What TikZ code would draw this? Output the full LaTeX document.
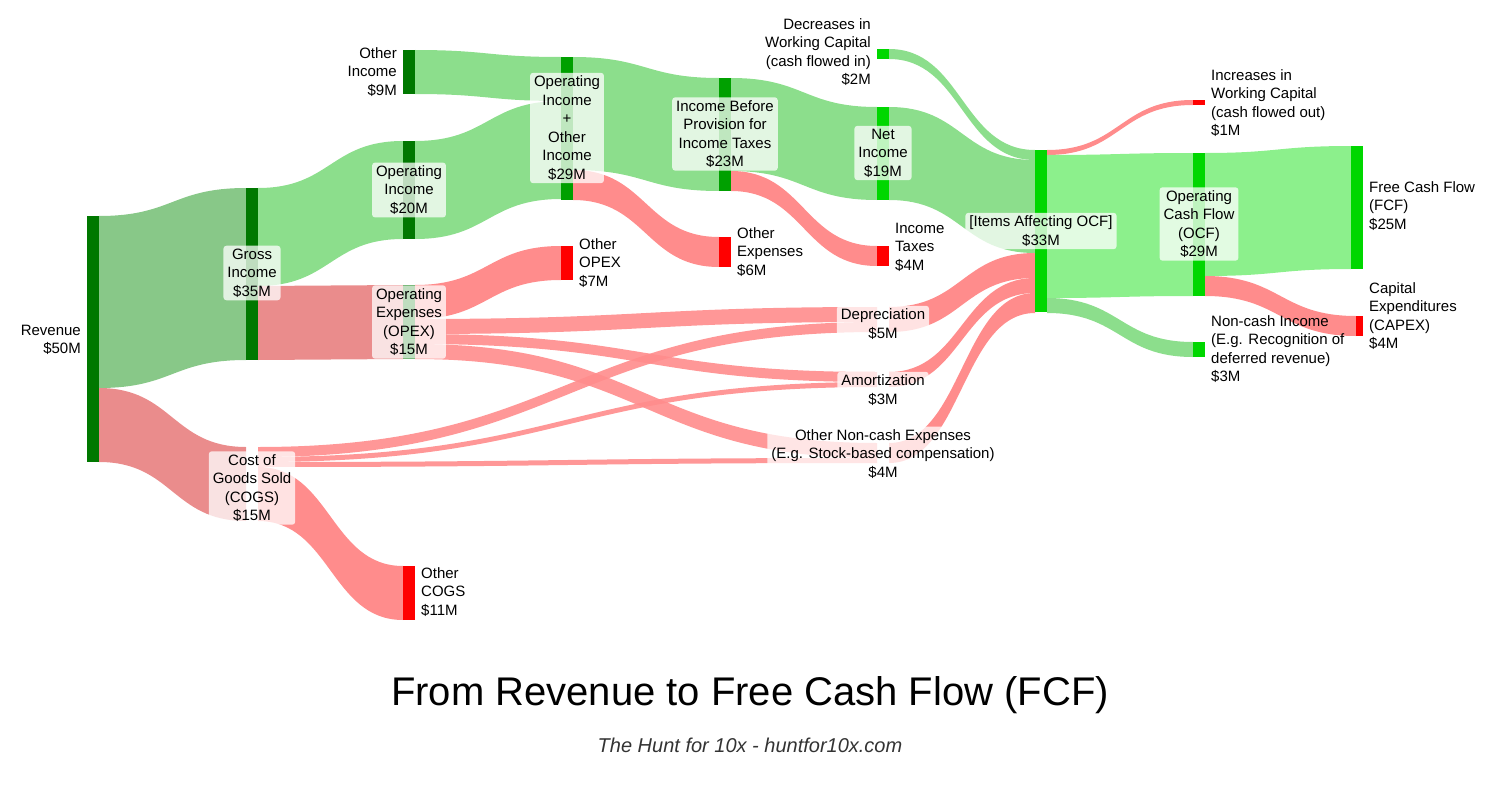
\documentclass[tikz,border=0pt]{standalone}
\usepackage{fontspec}
\setmainfont{Liberation Sans}
\usetikzlibrary{calc}
\definecolor{dkgreen}{RGB}{0,120,0}
\definecolor{mdgreen}{RGB}{0,160,0}
\definecolor{ltgreen}{RGB}{0,215,0}
\definecolor{flowgreen}{RGB}{140,222,140}
\definecolor{flowgreenB}{RGB}{136,200,136}
\definecolor{flowgreenC}{RGB}{140,240,140}
\definecolor{flowred}{RGB}{255,140,140}
\definecolor{flowredB}{RGB}{234,140,140}
\newcommand\flowband[6]{%
  \pgfmathsetmacro\xm{(#1+#3)/2}\pgfmathsetmacro\ya{#2+#5}\pgfmathsetmacro\yb{#4+#5}%
  \fill[#6] (#1,#2) .. controls (\xm,#2) and (\xm,#4) .. (#3,#4) -- (#3,\yb)
    .. controls (\xm,\yb) and (\xm,\ya) .. (#1,\ya) -- cycle;}
\tikzset{
  bar/.style={inner sep=0pt, minimum width=12pt, anchor=north west, draw=none},
  lbl/.style={align=center, fill=white, fill opacity=0.75, text opacity=1,
    rounded corners=3pt, inner xsep=4pt, inner ysep=3pt, font=\fontsize{15}{18.5}\selectfont},
  txt/.style={align=left, inner sep=0pt, font=\fontsize{15}{18.5}\selectfont},
}
\begin{document}
\begin{tikzpicture}[x=1pt,y=-1pt]
\useasboundingbox (0,0) rectangle (1500,800);
% flows
\flowband{99}{216}{246}{188}{172}{flowgreenB}
\flowband{99}{388}{246}{447}{74}{flowredB}
\flowband{258}{188}{403}{141}{98}{flowgreen}
\flowband{258}{286}{403}{285}{74}{flowredB}
\flowband{258}{447}{877}{322}{10}{flowred,opacity=.9}
\flowband{258}{457}{877}{382}{5}{flowred,opacity=.9}
\flowband{258}{462}{877}{458}{5}{flowred,opacity=.9}
\flowband{258}{467}{403}{566}{54}{flowred}
\flowband{415}{50}{561}{57}{44}{flowgreen}
\flowband{415}{141}{561}{101}{98}{flowgreen}
\flowband{415}{285}{561}{246}{34}{flowred}
\flowband{415}{319}{877}{307}{15}{flowred,opacity=.9}
\flowband{415}{334}{877}{372}{10}{flowred,opacity=.9}
\flowband{415}{344}{877}{443}{15}{flowred,opacity=.9}
\flowband{573}{57}{719}{78}{113}{flowgreen}
\flowband{573}{170}{719}{237}{30}{flowred}
\flowband{731}{78}{877}{107}{93}{flowgreen}
\flowband{731}{171}{877}{246}{20}{flowred}
\flowband{889}{49}{1035}{150}{10}{flowgreen}
\flowband{889}{107}{1035}{160}{93}{flowgreen}
\flowband{889}{307}{1035}{253}{25}{flowred}
\flowband{889}{372}{1035}{278}{15}{flowred}
\flowband{889}{443}{1035}{293}{20}{flowred}
\flowband{1047}{150}{1193}{100}{5}{flowred}
\flowband{1047}{155}{1193}{153}{143}{flowgreenC}
\flowband{1047}{298}{1193}{342}{15}{flowgreen}
\flowband{1205}{153}{1351}{146}{123}{flowgreenC}
\flowband{1205}{276}{1356}{316}{20}{flowred}
% bars
\node[bar, fill=dkgreen, minimum height=246pt] (rev) at (87,216) {};
\node[bar, fill=dkgreen, minimum height=172pt] (gross) at (246,188) {};
\node[bar, fill=dkgreen, minimum height=98pt] (opinc) at (403,141) {};
\node[bar, fill=dkgreen, minimum height=44pt] (othinc) at (403,50) {};
\node[bar, fill=dkgreen, minimum height=74pt] (opex) at (403,285) {};
\node[bar, fill=red, minimum height=54pt] (othcogs) at (403,566) {};
\node[bar, fill=mdgreen, minimum height=143pt] (opother) at (561,57) {};
\node[bar, fill=red, minimum height=34pt] (othopex) at (561,246) {};
\node[bar, fill=mdgreen, minimum height=113pt] (ebt) at (719,78) {};
\node[bar, fill=red, minimum height=30pt] (othexp) at (719,237) {};
\node[bar, fill=ltgreen, minimum height=93pt] (net) at (877,107) {};
\node[bar, fill=red, minimum height=20pt] (tax) at (877,246) {};
\node[bar, fill=ltgreen, minimum height=10pt] (decwc) at (877,49) {};
\node[bar, fill=ltgreen, minimum height=162pt] (items) at (1035,150) {};
\node[bar, fill=red, minimum height=5pt] (incwc) at (1193,100) {};
\node[bar, fill=ltgreen, minimum height=143pt] (ocf) at (1193,153) {};
\node[bar, fill=ltgreen, minimum height=15pt] (ncinc) at (1193,342) {};
\node[bar, fill=ltgreen, minimum height=123pt] (fcf) at (1351,146) {};
\node[bar, fill=red, minimum width=7pt, minimum height=20pt] (capex) at (1356,316) {};
% labels
\node[txt, align=right, anchor=east] (lrev) at (81,340) {Revenue\\\$50M};
\node[lbl] (lgross) at (252,273) {Gross\\Income\\\$35M};
\node[lbl] (lcogs) at (252,488) {Cost of\\Goods Sold\\(COGS)\\\$15M};
\node[lbl] (lopinc) at (409,190) {Operating\\Income\\\$20M};
\node[txt, align=right, anchor=east] (lothinc) at (397,72) {Other\\Income\\\$9M};
\node[lbl] (lopex) at (409,322) {Operating\\Expenses\\(OPEX)\\\$15M};
\node[txt, anchor=west] (lothopex) at (579,263) {Other\\OPEX\\\$7M};
\node[txt, anchor=west] (lothcogs) at (421,592) {Other\\COGS\\\$11M};
\node[lbl] (lopother) at (567,128) {Operating\\Income\\+\\Other\\Income\\\$29M};
\node[lbl] (lebt) at (725,134) {Income Before\\Provision for\\Income Taxes\\\$23M};
\node[txt, anchor=west] (lothexp) at (737,252) {Other\\Expenses\\\$6M};
\node[lbl] (lnet) at (883,153) {Net\\Income\\\$19M};
\node[txt, anchor=west] (ltax) at (895,247) {Income\\Taxes\\\$4M};
\node[txt, align=right, anchor=east] (ldecwc) at (871,52) {Decreases in\\Working Capital\\(cash flowed in)\\\$2M};
\node[lbl] (ldep) at (883,324) {Depreciation\\\$5M};
\node[lbl] (lamort) at (883,390) {Amortization\\\$3M};
\node[lbl] (lnc) at (883,454) {Other Non-cash Expenses\\(E.g. Stock-based compensation)\\\$4M};
\node[lbl] (litems) at (1041,231) {[Items Affecting OCF]\\\$33M};
\node[txt, anchor=west] (lincwc) at (1211,103) {Increases in\\Working Capital\\(cash flowed out)\\\$1M};
\node[lbl] (locf) at (1199,224) {Operating\\Cash Flow\\(OCF)\\\$29M};
\node[txt, anchor=west] (lncinc) at (1211,349) {Non-cash Income\\(E.g. Recognition of\\deferred revenue)\\\$3M};
\node[txt, anchor=west] (lfcf) at (1369,206) {Free Cash Flow\\(FCF)\\\$25M};
\node[txt, anchor=west] (lcapex) at (1369,316) {Capital\\Expenditures\\(CAPEX)\\\$4M};
% title
\node[font=\fontsize{40}{44}\selectfont] (title) at (750,695) {From Revenue to Free Cash Flow (FCF)};
\node[font=\fontsize{20}{23}\selectfont\itshape, text=black!80] (sub) at (750,745) {The Hunt for 10x - huntfor10x.com};
\end{tikzpicture}
\end{document}
